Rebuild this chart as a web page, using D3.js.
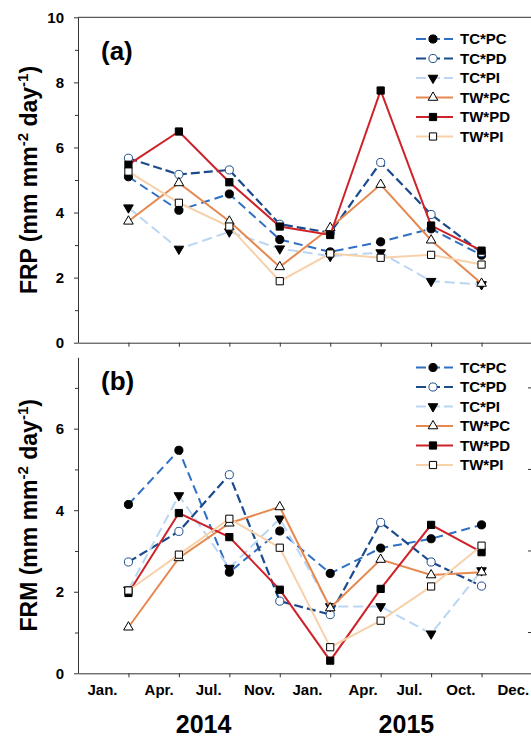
<!DOCTYPE html>
<html>
<head>
<meta charset="utf-8">
<script src="https://cdn.jsdelivr.net/npm/d3@7"></script>
<style>
  body { margin: 0; background: #fff; }
  svg { display: block; font-family: "Liberation Sans", Arial, sans-serif; font-weight: bold; }
  .axis path, .axis line { stroke: #333; stroke-width: 1; }
</style>
</head>
<body>
<div id="chart"></div>
<script>
// sampling dates are plotted at index 1..8
const sampleIdx = [1, 2, 3, 4, 5, 6, 7, 8];

const seriesNames = ['TC*PC', 'TC*PD', 'TC*PI', 'TW*PC', 'TW*PD', 'TW*PI'];

// panel (a) FRP
const frpTCPC = [5.10, 4.07, 4.57, 3.17, 2.79, 3.10, 3.50, 2.69];
const frpTCPD = [5.67, 5.17, 5.31, 3.64, 3.38, 5.54, 3.94, 2.77];
const frpTCPI = [4.15, 2.88, 3.41, 2.89, 2.66, 2.77, 1.89, 1.79];
const frpTWPC = [3.73, 4.91, 3.73, 2.33, 3.53, 4.86, 3.15, 1.82];
const frpTWPD = [5.47, 6.49, 4.93, 3.57, 3.31, 7.75, 3.60, 2.83];
const frpTWPI = [5.26, 4.30, 3.57, 1.89, 2.74, 2.61, 2.70, 2.40];

// panel (b) FRM
const frmTCPC = [4.14, 5.47, 2.48, 3.49, 2.45, 3.07, 3.30, 3.64];
const frmTCPD = [2.73, 3.48, 4.87, 1.77, 1.44, 3.70, 2.73, 2.14];
const frmTCPI = [2.05, 4.36, 2.58, 3.79, 1.64, 1.64, 0.97, 2.52];
const frmTWPC = [1.13, 2.83, 3.68, 4.08, 1.60, 2.79, 2.41, 2.48];
const frmTWPD = [1.97, 3.93, 3.34, 2.05, 0.31, 2.07, 3.64, 2.97];
const frmTWPI = [2.03, 2.91, 3.79, 3.08, 0.64, 1.29, 2.13, 3.13];

// month labels (position on the index axis) and years
const monthLabels = ['Jan.', 'Apr.', 'Jul.', 'Nov.', 'Jan.', 'Apr.', 'Jul.', 'Oct.', 'Dec.'];
const monthPos = [0.485, 1.61, 2.59, 3.60, 4.55, 5.65, 6.57, 7.59, 8.63];
const yearLabels = ['2014', '2015'];
const yearPos = [2.49, 6.51];

const styles = {
  'TC*PC': { color: '#2f70c4', dash: '9,5', symbol: 'circle', fill: '#000', stroke: '#000', width: 2 },
  'TC*PD': { color: '#1b4b8d', dash: '9,4', symbol: 'circle', fill: '#fff', stroke: '#1f4f8f', width: 2.2 },
  'TC*PI': { color: '#bad6f3', dash: '10,5', symbol: 'triDown', fill: '#000', stroke: '#000', width: 2 },
  'TW*PC': { color: '#e6884f', dash: null, symbol: 'triangle', fill: '#fff', stroke: '#000', width: 2 },
  'TW*PD': { color: '#cd2229', dash: null, symbol: 'square', fill: '#000', stroke: '#000', width: 2 },
  'TW*PI': { color: '#f7d1aa', dash: null, symbol: 'square', fill: '#fff', stroke: '#000', width: 2 },
};

const width = 531;
const height = 736;

const svg = d3.select('#chart')
  .append('svg')
  .attr('width', width)
  .attr('height', height);

const x = d3.scaleLinear().domain([0, 9]).range([78, 532]);

function symbolPath(kind) {
  if (kind === 'circle') return d3.symbol(d3.symbolCircle, 52)();
  if (kind === 'square') return d3.symbol(d3.symbolSquare, 52)();
  return d3.symbol(d3.symbolTriangle, 40)();
}

function drawMarker(g, kind, st, cx, cy) {
  g.append('path')
    .attr('d', symbolPath(kind))
    .attr('transform', `translate(${cx},${cy})` + (kind === 'triDown' ? ' rotate(180)' : ''))
    .attr('fill', st.fill)
    .attr('stroke', st.stroke)
    .attr('stroke-width', 1);
}

function drawPanel(opts) {
  const { top, bottom, ymax, majors, minors, values, label, labelY, title, legendTop, rightTicks } = opts;
  const y = d3.scaleLinear().domain([0, ymax]).range([bottom, top]);
  const g = svg.append('g');

  // minor y ticks
  g.append('g')
    .attr('class', 'axis')
    .attr('transform', `translate(${x(0)},0)`)
    .call(d3.axisLeft(y).tickValues(minors).tickSize(3).tickSizeOuter(0).tickFormat(''))
    .select('.domain').remove();

  // major y ticks + labels
  const ya = g.append('g')
    .attr('class', 'axis')
    .attr('transform', `translate(${x(0)},0)`)
    .call(d3.axisLeft(y).tickValues(majors).tickSize(4).tickSizeOuter(0).tickPadding(10));
  ya.selectAll('text')
    .attr('font-size', 15)
    .attr('font-family', '"Liberation Sans", Arial, sans-serif')
    .attr('font-weight', 'bold')
    .attr('fill', '#000');

  // x axis ticks
  g.append('g')
    .attr('class', 'axis')
    .attr('transform', `translate(0,${bottom})`)
    .call(d3.axisBottom(x).tickValues(sampleIdx).tickSize(4).tickSizeOuter(0).tickFormat(''));

  if (opts.topBorder) {
    g.append('line')
      .attr('x1', x(0)).attr('x2', width)
      .attr('y1', top).attr('y2', top)
      .attr('stroke', '#333');
  }

  if (rightTicks) {
    g.selectAll('.rtick')
      .data(minors)
      .join('line')
      .attr('x1', width - 3).attr('x2', width)
      .attr('y1', (d) => y(d)).attr('y2', (d) => y(d))
      .attr('stroke', '#333');
  }

  // series
  seriesNames.forEach((name, i) => {
    const st = styles[name];
    const pts = sampleIdx.map((d, j) => [x(d), y(values[i][j])]);
    const path = g.append('path')
      .attr('d', d3.line()(pts))
      .attr('fill', 'none')
      .attr('stroke', st.color)
      .attr('stroke-width', st.width);
    if (st.dash) path.attr('stroke-dasharray', st.dash);
    pts.forEach((p) => drawMarker(g, st.symbol, st, p[0], p[1]));
  });

  // legend
  seriesNames.forEach((name, i) => {
    const st = styles[name];
    const ly = legendTop + i * 19.5;
    const ln = g.append('line')
      .attr('x1', 416).attr('x2', 453)
      .attr('y1', ly).attr('y2', ly)
      .attr('stroke', st.color)
      .attr('stroke-width', st.width);
    if (st.dash) ln.attr('stroke-dasharray', '10,4').attr('stroke-dashoffset', 0);
    drawMarker(g, st.symbol, st, 433, ly);
    g.append('text')
      .attr('x', 460)
      .attr('y', ly + 5.3)
      .attr('font-size', 15)
      .text(name);
  });

  // panel label
  g.append('text')
    .attr('x', 101)
    .attr('y', labelY)
    .attr('font-size', 26)
    .text(label);

  // y title
  const t = g.append('text')
    .attr('transform', `translate(37,${(top + bottom) / 2}) rotate(-90)`)
    .attr('text-anchor', 'middle')
    .attr('font-size', 23);
  t.append('tspan').text(title + ' (mm mm');
  t.append('tspan').attr('font-size', 15).attr('dy', -9).text('-2');
  t.append('tspan').attr('dy', 9).text(' day');
  t.append('tspan').attr('font-size', 15).attr('dy', -9).text('-1');
  t.append('tspan').attr('dy', 9).text(')');

  return y;
}

drawPanel({
  top: 17.3, bottom: 342.7, ymax: 10,
  majors: [0, 2, 4, 6, 8, 10], minors: [1, 3, 5, 7, 9],
  values: [frpTCPC, frpTCPD, frpTCPI, frpTWPC, frpTWPD, frpTWPI],
  label: '(a)', labelY: 60, title: 'FRP', legendTop: 39,
  topBorder: true, rightTicks: false,
});

drawPanel({
  top: 357.3, bottom: 673.3, ymax: 7.75,
  majors: [0, 2, 4, 6], minors: [1, 3, 5, 7],
  values: [frmTCPC, frmTCPD, frmTCPI, frmTWPC, frmTWPD, frmTWPI],
  label: '(b)', labelY: 390, title: 'FRM', legendTop: 367.5,
  topBorder: false, rightTicks: true,
});

// month labels under panel (b)
svg.append('g')
  .selectAll('text')
  .data(monthLabels)
  .join('text')
  .attr('x', (d, i) => x(monthPos[i]))
  .attr('y', 695.3)
  .attr('text-anchor', 'middle')
  .attr('font-size', 15)
  .text((d) => d);

svg.append('g')
  .selectAll('text')
  .data(yearLabels)
  .join('text')
  .attr('x', (d, i) => x(yearPos[i]))
  .attr('y', 732.5)
  .attr('text-anchor', 'middle')
  .attr('font-size', 25)
  .text((d) => d);
</script>
</body>
</html>
